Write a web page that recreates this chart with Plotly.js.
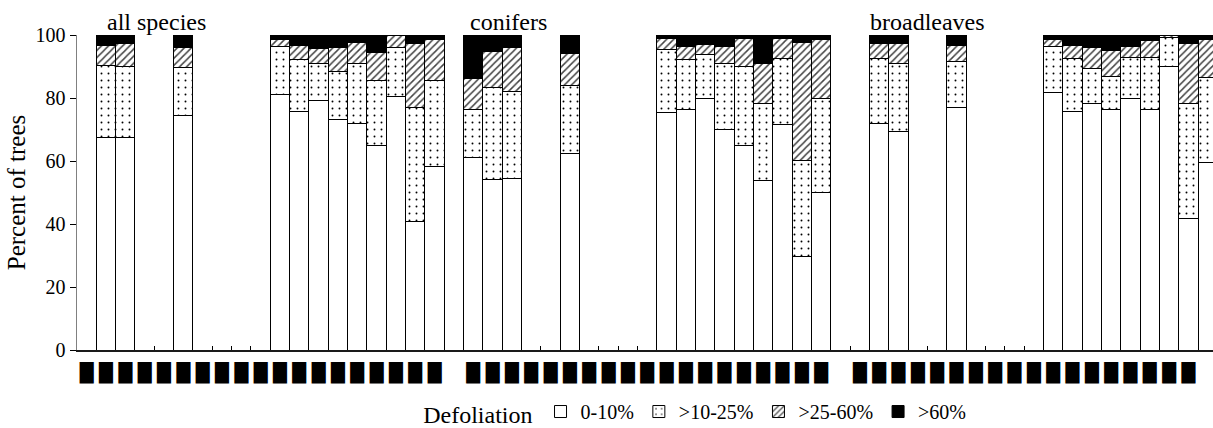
<!DOCTYPE html>
<html>
<head>
<meta charset="utf-8">
<script src="https://cdn.plot.ly/plotly-3.0.1.min.js"></script>
<style>
  html, body { margin: 0; padding: 0; background: #fff; overflow: hidden; }
  #chart { width: 1213px; height: 428px; }
</style>
</head>
<body>
<div id="chart"></div>
<script>
// ---- data ----
const groupNames = ["all species", "conifers", "broadleaves"];

// 19 country slots per group; labels are redacted (black boxes) in the reference
const slotLabels = ["█","█","█","█","█","█","█","█","█","█","█","█","█","█","█","█","█","█","█"];

// Defoliation classes (percent of trees), null = no data
const classNames = ["0-10%", ">10-25%", ">25-60%", ">60%"];

const allSpecies = {
  c0_10:  [null, 67.5, 67.5, null, null, 74.4, null, null, null, null, 81.0, 75.8, 79.2, 73.1, 71.8, 64.9, 80.4, 40.9, 58.2],
  c10_25: [null, 22.8, 22.5, null, null, 15.3, null, null, null, null, 15.4, 16.3, 11.9, 15.4, 19.2, 20.6, 15.5, 36.0, 27.3],
  c25_60: [null,  6.3,  7.3, null, null,  6.4, null, null, null, null,  2.3,  4.5,  4.5,  7.6,  6.7,  8.8,  3.9, 20.4, 13.2],
  c60:    [null,  3.4,  2.7, null, null,  3.9, null, null, null, null,  1.3,  3.4,  4.4,  3.9,  2.3,  5.7,  0.2,  2.7,  1.3]
};
const conifers = {
  c0_10:  [61.2, 54.0, 54.3, null, null, 62.5, null, null, null, null, 75.4, 76.2, 80.0, 69.9, 64.9, 53.8, 71.5, 29.7, 50.1],
  c10_25: [15.3, 29.4, 27.8, null, null, 21.4, null, null, null, null, 19.9, 15.9, 13.8, 20.9, 25.1, 24.5, 20.9, 30.4, 29.8],
  c25_60: [ 9.7, 11.4, 14.0, null, null, 10.1, null, null, null, null,  3.7,  4.4,  3.1,  5.7,  9.0, 12.7,  6.6, 37.6, 18.6],
  c60:    [13.8,  5.2,  3.9, null, null,  6.0, null, null, null, null,  1.0,  3.5,  3.1,  3.5,  1.0,  9.0,  1.0,  2.3,  1.5]
};
const broadleaves = {
  c0_10:  [null, 71.8, 69.3, null, null, 77.1, null, null, null, null, 81.8, 75.8, 78.3, 76.5, 79.7, 76.2, 89.9, 41.9, 59.6],
  c10_25: [null, 20.6, 21.5, null, null, 14.4, null, null, null, null, 14.5, 16.6, 11.1, 10.4, 13.2, 16.7,  9.3, 36.4, 26.8],
  c25_60: [null,  4.9,  6.5, null, null,  5.1, null, null, null, null,  2.2,  4.4,  6.7,  8.3,  3.5,  5.3,  0.5, 19.0, 12.3],
  c60:    [null,  2.7,  2.7, null, null,  3.4, null, null, null, null,  1.5,  3.2,  3.9,  4.8,  3.6,  1.8,  0.3,  2.7,  1.3]
};

// ---- build the category axis: 3 groups of 19 slots, with an empty spacer slot between groups ----
const groupData = [allSpecies, conifers, broadleaves];
const keys = ["c0_10", "c10_25", "c25_60", "c60"];
const cats = [], labels = [], series = [[], [], [], []];
groupData.forEach((g, gi) => {
  slotLabels.forEach((lab, si) => {
    cats.push("g" + gi + "s" + si);
    labels.push(lab);
    keys.forEach((k, ki) => series[ki].push(g[k][si]));
  });
  if (gi < groupData.length - 1) {
    cats.push("gap" + gi);
    labels.push("");
    keys.forEach((k, ki) => series[ki].push(null));
  }
});
const labelPos = cats.map((c, i) => i);
const groupStart = groupNames.map((n, gi) => gi * 20);

// ---- styles ----
const serif = "Liberation Serif";
const patterns = [
  { shape: "", bgcolor: "#ffffff" },
  { shape: ".", fgcolor: "#000000", bgcolor: "#ffffff", size: 7, solidity: 0.06 },
  { shape: "/", fgcolor: "#444444", bgcolor: "#ffffff", size: 5, solidity: 0.3 },
  { shape: "", bgcolor: "#000000" }
];
const fills = ["#ffffff", "#ffffff", "#ffffff", "#000000"];

const traces = classNames.map((name, i) => ({
  type: "bar",
  name: name,
  x: cats,
  y: series[i],
  marker: {
    color: fills[i],
    line: { color: "#000000", width: 1 },
    pattern: patterns[i]
  },
  hoverinfo: "x+y+name"
}));
traces.push({ type: "scatter", x: [], y: [], xaxis: "x2", yaxis: "y", showlegend: false, hoverinfo: "skip" });

const rangeMax = 58.27;
const layout = {
  width: 1213, height: 428,
  margin: { l: 77, r: 0, t: 35, b: 78, autoexpand: false },
  paper_bgcolor: "#ffffff", plot_bgcolor: "#ffffff",
  barmode: "stack", bargap: 0,
  showlegend: true,
  font: { family: serif, color: "#000000", size: 20 },
  xaxis: {
    type: "category",
    categoryorder: "array", categoryarray: cats,
    range: [-0.5, rangeMax],
    tickmode: "linear", tick0: 0, dtick: 1,
    tickson: "boundaries",
    ticks: "inside", ticklen: 4, tickwidth: 1, tickcolor: "#000000",
    showticklabels: false,
    showline: true, linecolor: "#1a1a1a", linewidth: 1.6,
    showgrid: false, zeroline: false, fixedrange: true, automargin: false
  },
  xaxis2: {
    type: "linear", overlaying: "x", anchor: "y", side: "bottom",
    range: [-0.5, rangeMax],
    tickmode: "array", tickvals: labelPos, ticktext: labels,
    ticks: "", showline: false, showgrid: false, zeroline: false,
    tickfont: { family: "DejaVu Sans", size: 18, color: "#000000" },
    ticklabelstandoff: 10,
    fixedrange: true, automargin: false
  },
  yaxis: {
    range: [0, 100], tickmode: "linear", tick0: 0, dtick: 20,
    ticks: "outside", ticklen: 6, tickwidth: 1, tickcolor: "#000000",
    showline: true, linecolor: "#808080", linewidth: 1.5,
    showgrid: false, zeroline: false,
    tickfont: { family: serif, size: 20, color: "#000000" },
    title: { text: "Percent of trees", font: { family: serif, size: 25, color: "#000000" }, standoff: 3 },
    fixedrange: true, automargin: false
  },
  legend: {
    orientation: "h",
    x: 0.303, xanchor: "left",
    yref: "container",
    y: 0.035, yanchor: "middle",
    title: { text: "Defoliation", side: "left", font: { family: serif, size: 24 } },
    font: { family: serif, size: 20, color: "#000000" },
    traceorder: "normal",
    itemwidth: 30,
    bgcolor: "rgba(0,0,0,0)"
  },
  annotations: groupNames.map((n, gi) => ({
    text: n,
    xref: "x", yref: "y",
    x: groupStart[gi] + [3.6, 1.8, 3.5][gi],
    y: 100, yanchor: "bottom", xanchor: "center",
    showarrow: false, yshift: -2,
    font: { family: serif, size: 24, color: "#000000" }
  }))
};

Plotly.newPlot("chart", traces, layout, { displayModeBar: false, staticPlot: true });
</script>
</body>
</html>
